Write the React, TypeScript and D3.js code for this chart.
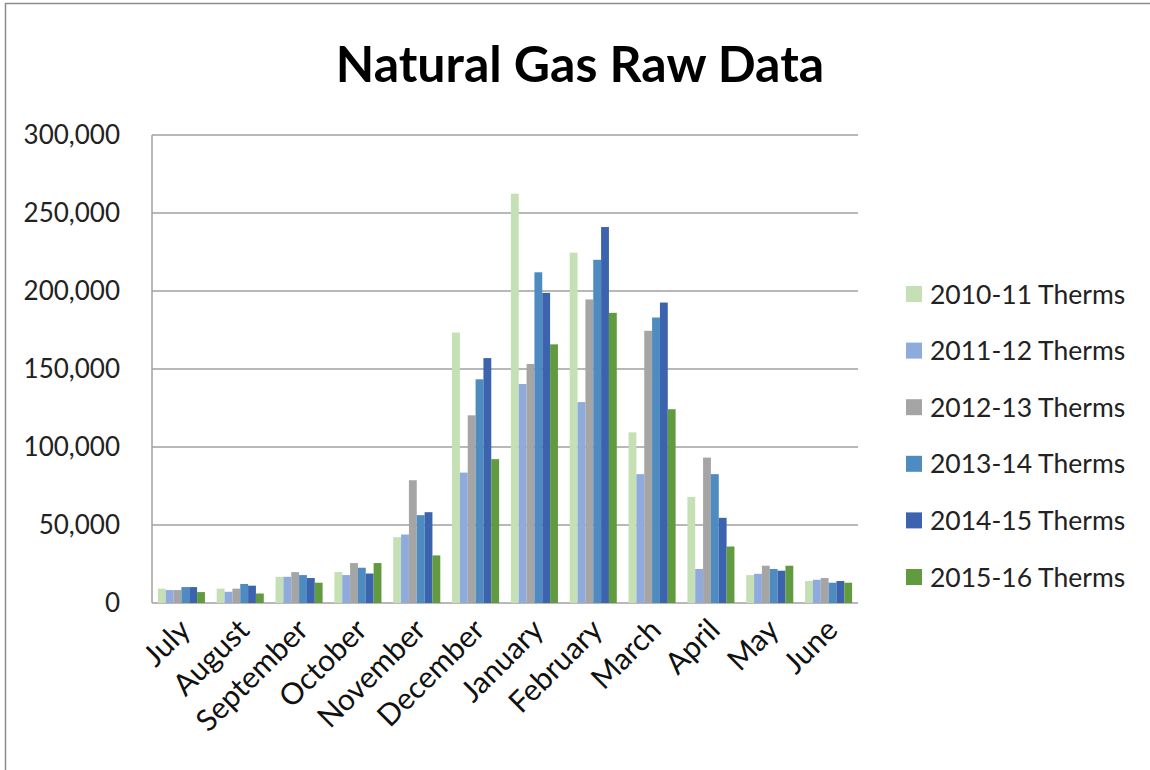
import React, { useEffect, useRef } from "react";
import * as d3 from "d3";

const months = ["July", "August", "September", "October", "November", "December", "January", "February", "March", "April", "May", "June"];
const seriesNames = ["2010-11 Therms", "2011-12 Therms", "2012-13 Therms", "2013-14 Therms", "2014-15 Therms", "2015-16 Therms"];
const colors = ["#c5e0b4", "#8faadc", "#a5a5a5", "#4e8bc0", "#3c63ad", "#629b3f"];

const therms2010 = [9200, 9200, 16800, 19800, 42200, 173400, 262400, 224600, 109400, 68000, 17900, 14100];
const therms2011 = [8300, 7200, 16800, 17900, 43900, 83600, 140400, 128800, 82600, 21800, 18700, 14900];
const therms2012 = [8300, 9200, 19800, 25600, 78700, 120300, 153200, 194600, 174500, 93200, 23900, 16000];
const therms2013 = [10200, 12200, 17900, 22600, 56300, 143400, 212000, 220000, 183000, 82600, 21800, 13000];
const therms2014 = [10200, 11100, 16000, 18900, 58200, 157000, 198800, 241000, 192600, 54600, 20700, 14100];
const therms2015 = [7000, 6100, 13000, 25600, 30500, 92200, 165800, 186000, 124200, 36200, 23900, 13000];

const yTicks = [0, 50000, 100000, 150000, 200000, 250000, 300000];

const App = () => {
    const ref = useRef<SVGSVGElement>(null);

    useEffect(() => {
        const width = 1150;
        const height = 770;
        const margin = { top: 135, right: 292, bottom: 167, left: 152 };
        const font = "Lato, 'Noto Sans', sans-serif";

        const svg = d3.select(ref.current);
        svg.selectAll("*").remove();

        const series = [therms2010, therms2011, therms2012, therms2013, therms2014, therms2015];

        svg.append("rect")
            .attr("x", 5.5)
            .attr("y", 3.5)
            .attr("width", width)
            .attr("height", height)
            .attr("fill", "white")
            .attr("stroke", "#8c8c8c")
            .attr("stroke-width", 1.5);

        const x0 = d3
            .scaleBand()
            .domain(months)
            .range([margin.left, width - margin.right])
            .paddingInner(0.2)
            .paddingOuter(0.1);

        const x1 = d3
            .scaleBand()
            .domain(seriesNames)
            .range([0, x0.bandwidth()]);

        const y = d3
            .scaleLinear()
            .domain([0, 300000])
            .range([height - margin.bottom, margin.top]);

        // gridlines
        svg.append("g")
            .selectAll("line")
            .data(yTicks)
            .join("line")
            .attr("x1", margin.left)
            .attr("x2", width - margin.right)
            .attr("y1", (d) => y(d))
            .attr("y2", (d) => y(d))
            .attr("stroke", "#a0a0a0")
            .attr("stroke-width", 1.5);

        svg.append("line")
            .attr("x1", margin.left)
            .attr("x2", margin.left)
            .attr("y1", y(300000))
            .attr("y2", y(0))
            .attr("stroke", "#a0a0a0")
            .attr("stroke-width", 1.5);

        // bars
        series.forEach((values, i) => {
            svg.append("g")
                .selectAll("rect")
                .data(values)
                .join("rect")
                .attr("x", (d, j) => x0(months[j])! + x1(seriesNames[i])!)
                .attr("y", (d) => y(d))
                .attr("width", x1.bandwidth())
                .attr("height", (d) => y(0) - y(d))
                .attr("fill", colors[i]);
        });

        // y axis labels
        svg.append("g")
            .selectAll("text")
            .data(yTicks)
            .join("text")
            .attr("x", 120)
            .attr("y", (d) => y(d))
            .attr("dy", "0.35em")
            .attr("text-anchor", "end")
            .attr("font-family", font)
            .attr("font-size", 26)
            .attr("fill", "#222")
            .text((d) => d3.format(",")(d));

        // x axis labels
        svg.append("g")
            .selectAll("text")
            .data(months)
            .join("text")
            .attr("transform", (d) => `translate(${x0(d)! + x0.bandwidth() / 2 - 4},${y(0) + 14}) rotate(-45)`)
            .attr("text-anchor", "end")
            .attr("dy", "0.7em")
            .attr("font-family", font)
            .attr("font-size", 30)
            .attr("fill", "#111")
            .text((d) => d);

        // title
        svg.append("text")
            .attr("x", 580)
            .attr("y", 82)
            .attr("text-anchor", "middle")
            .attr("font-family", font)
            .attr("font-weight", "bold")
            .attr("font-size", 50)
            .attr("fill", "#000")
            .text("Natural Gas Raw Data");

        // legend
        const legend = svg.append("g")
            .selectAll("g")
            .data(seriesNames)
            .join("g")
            .attr("transform", (d, i) => `translate(906,${294 + i * 56.6})`);

        legend.append("rect")
            .attr("x", 0)
            .attr("y", -8)
            .attr("width", 16)
            .attr("height", 16)
            .attr("fill", (d, i) => colors[i]);

        legend.append("text")
            .attr("x", 24)
            .attr("y", 0)
            .attr("dy", "0.36em")
            .attr("font-family", font)
            .attr("font-size", 26.5)
            .attr("fill", "#222")
            .text((d) => d);
    }, []);

    return (
        <svg
            ref={ref}
            width={1150}
            height={770}
            style={{ position: "absolute", left: 0, top: 0, background: "white" }}
        />
    );
};

export default App;
